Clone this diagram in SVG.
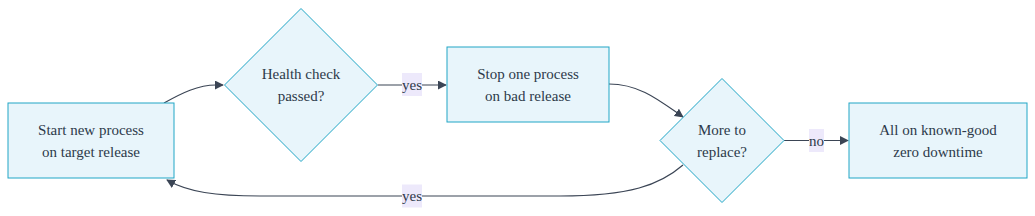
<svg xmlns="http://www.w3.org/2000/svg" width="1035" height="216" viewBox="0 0 1035 216">
<style>
.node{fill:#e8f5fb;stroke:#20a6c6;stroke-width:1}
.t{font-family:"Liberation Serif","Times New Roman",serif;font-size:15px;fill:#2d3a4a;text-anchor:middle}
.edge{fill:none;stroke:#3b4555;stroke-width:1.2}
.lbl{fill:#ede9fb}
</style>
<defs>
<marker id="arr" viewBox="0 0 10 10" refX="9" refY="5" markerUnits="userSpaceOnUse" markerWidth="9" markerHeight="9" orient="auto">
<path d="M0,0 L10,5 L0,10 z" fill="#3b4555"/>
</marker>
</defs>
<rect width="1035" height="216" fill="#ffffff"/>
<g id="connectors">
<path class="edge" d="M164,103 C182,93 198,85 216,85 L223,85" marker-end="url(#arr)"/>
<path class="edge" d="M378,85 L446,85" marker-end="url(#arr)"/>
<path class="edge" d="M609,84 C640,84 660,101 683,117" marker-end="url(#arr)"/>
<path class="edge" d="M784,140.5 L848,140.5" marker-end="url(#arr)"/>
<path class="edge" d="M683,165 C660,185 630,196 560,196 L260,196 C215,196 188,192 167,180" marker-end="url(#arr)"/>
<rect class="lbl" x="402" y="73" width="20" height="23"/>
<text class="t" x="412" y="89.5">yes</text>
<rect class="lbl" x="809" y="129" width="15" height="23"/>
<text class="t" x="816.5" y="145.5">no</text>
<rect class="lbl" x="402" y="184.5" width="20" height="23"/>
<text class="t" x="412" y="201">yes</text>
</g>
<g id="start">
<rect class="node" x="8" y="103" width="166" height="75"/>
<text class="t" x="91" y="134.5">Start new process</text>
<text class="t" x="91" y="156.5">on target release</text>
</g>
<g id="health">
<polygon class="node" points="301,8.5 377.5,85 301,161.5 224.5,85"/>
<text class="t" x="301" y="79">Health check</text>
<text class="t" x="301" y="101">passed?</text>
</g>
<g id="stop">
<rect class="node" x="447" y="47" width="162" height="75"/>
<text class="t" x="528" y="78.5">Stop one process</text>
<text class="t" x="528" y="100.5">on bad release</text>
</g>
<g id="more">
<polygon class="node" points="722,78.5 784,140.5 722,202.5 660,140.5"/>
<text class="t" x="722" y="134.5">More to</text>
<text class="t" x="722" y="156.5">replace?</text>
</g>
<g id="done">
<rect class="node" x="849" y="103" width="178" height="75"/>
<text class="t" x="938" y="134.5">All on known-good</text>
<text class="t" x="938" y="156.5">zero downtime</text>
</g>
</svg>
